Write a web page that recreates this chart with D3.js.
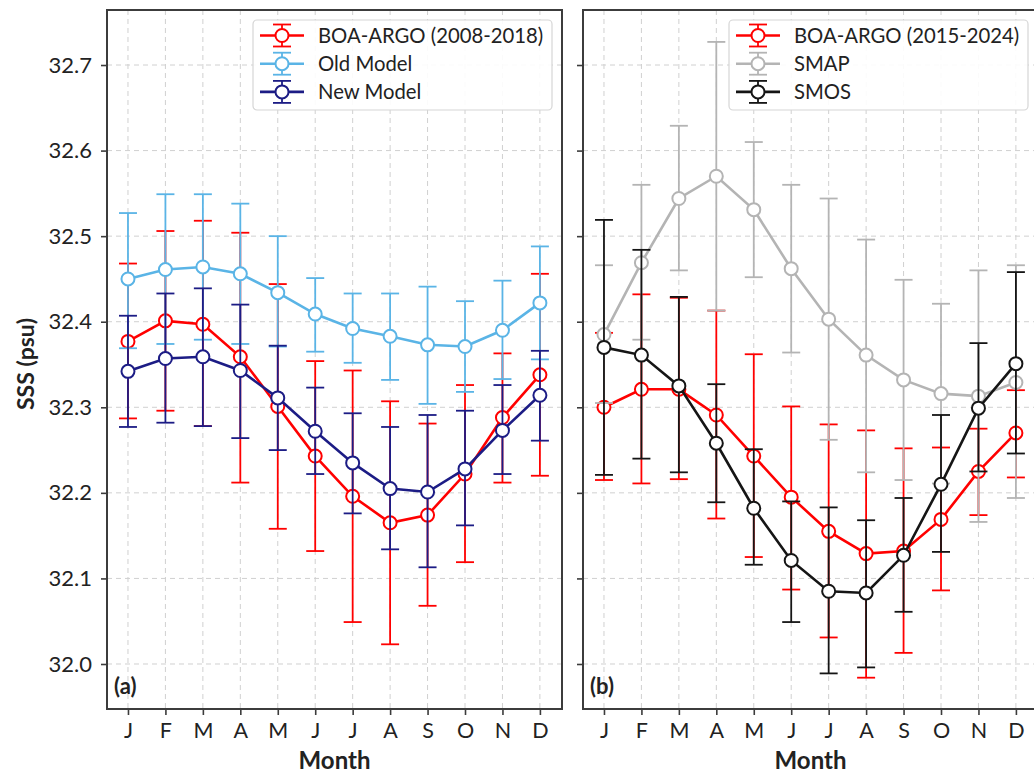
<!DOCTYPE html>
<html>
<head>
<meta charset="utf-8">
<script src="https://cdn.jsdelivr.net/npm/d3@7"></script>
<style>
  html, body { margin: 0; padding: 0; background: #fff; }
  svg { display: block; font-family: Lato, "Open Sans", sans-serif; }
</style>
</head>
<body>
<svg id="chart" width="1034" height="773"></svg>
<script>
// ---------- data ----------
const months = ["J","F","M","A","M","J","J","A","S","O","N","D"];
const yTicks = [32.0, 32.1, 32.2, 32.3, 32.4, 32.5, 32.6, 32.7];

// Panel (a)
const boaA_mean  = [32.377, 32.401, 32.397, 32.359, 32.301, 32.243, 32.196, 32.165, 32.174, 32.222, 32.288, 32.338];
const boaA_upper = [32.468, 32.506, 32.518, 32.504, 32.444, 32.354, 32.343, 32.307, 32.281, 32.326, 32.363, 32.456];
const boaA_lower = [32.287, 32.296, 32.278, 32.212, 32.158, 32.132, 32.049, 32.023, 32.068, 32.119, 32.212, 32.220];

const oldModel_mean  = [32.450, 32.461, 32.464, 32.456, 32.434, 32.409, 32.392, 32.383, 32.373, 32.371, 32.390, 32.422];
const oldModel_upper = [32.527, 32.549, 32.549, 32.538, 32.500, 32.451, 32.433, 32.433, 32.441, 32.424, 32.448, 32.488];
const oldModel_lower = [32.369, 32.374, 32.379, 32.374, 32.371, 32.365, 32.352, 32.332, 32.304, 32.318, 32.333, 32.356];

const newModel_mean  = [32.342, 32.357, 32.359, 32.343, 32.311, 32.272, 32.235, 32.205, 32.201, 32.228, 32.273, 32.314];
const newModel_upper = [32.407, 32.433, 32.439, 32.420, 32.372, 32.323, 32.293, 32.277, 32.291, 32.296, 32.326, 32.366];
const newModel_lower = [32.277, 32.282, 32.278, 32.264, 32.250, 32.222, 32.176, 32.134, 32.113, 32.162, 32.222, 32.261];

// Panel (b)
const boaB_mean  = [32.300, 32.321, 32.321, 32.291, 32.243, 32.195, 32.155, 32.129, 32.132, 32.169, 32.225, 32.270];
const boaB_upper = [32.387, 32.432, 32.428, 32.413, 32.362, 32.301, 32.280, 32.273, 32.252, 32.253, 32.275, 32.320];
const boaB_lower = [32.215, 32.211, 32.216, 32.170, 32.125, 32.087, 32.031, 31.984, 32.013, 32.086, 32.174, 32.218];

const smap_mean  = [32.385, 32.469, 32.544, 32.570, 32.531, 32.462, 32.403, 32.361, 32.332, 32.316, 32.313, 32.329];
const smap_upper = [32.466, 32.560, 32.629, 32.727, 32.610, 32.560, 32.544, 32.496, 32.449, 32.421, 32.460, 32.466];
const smap_lower = [32.305, 32.379, 32.460, 32.413, 32.452, 32.364, 32.262, 32.224, 32.215, 32.211, 32.166, 32.194];

const smos_mean  = [32.370, 32.361, 32.325, 32.258, 32.182, 32.121, 32.085, 32.083, 32.127, 32.210, 32.299, 32.351];
const smos_upper = [32.519, 32.484, 32.429, 32.327, 32.251, 32.190, 32.183, 32.168, 32.194, 32.291, 32.375, 32.458];
const smos_lower = [32.221, 32.240, 32.224, 32.189, 32.116, 32.049, 31.989, 31.996, 32.061, 32.131, 32.225, 32.246];

const panelA = {
  label: "(a)",
  series: [
    {name: "BOA-ARGO (2008-2018)", color: "#ff0000", mean: boaA_mean, upper: boaA_upper, lower: boaA_lower},
    {name: "Old Model", color: "#5ab4e6", mean: oldModel_mean, upper: oldModel_upper, lower: oldModel_lower},
    {name: "New Model", color: "#1c1c85", mean: newModel_mean, upper: newModel_upper, lower: newModel_lower}
  ]
};
const panelB = {
  label: "(b)",
  series: [
    {name: "BOA-ARGO (2015-2024)", color: "#ff0000", mean: boaB_mean, upper: boaB_upper, lower: boaB_lower},
    {name: "SMAP", color: "#b4b4b4", mean: smap_mean, upper: smap_upper, lower: smap_lower},
    {name: "SMOS", color: "#151515", mean: smos_mean, upper: smos_upper, lower: smos_lower}
  ]
};

// ---------- layout ----------
const svg = d3.select("#chart");
const H = {top: 10, bottom: 709};
const panelW = 455;
const panels = [
  {cfg: panelA, left: 107, showYLabels: true},
  {cfg: panelB, left: 583, showYLabels: false}
];
const axisColor = "#3c3c3c";
const textColor = "#222";

const y = d3.scaleLinear().domain([31.9474, 32.7643]).range([H.bottom, H.top]);

panels.forEach(p => {
  const x = d3.scaleLinear().domain([-0.56, 11.59]).range([p.left, p.left + panelW]);
  const g = svg.append("g");

  // grid
  g.append("g").selectAll("line.vg").data(months).join("line")
    .attr("x1", (d, i) => x(i)).attr("x2", (d, i) => x(i))
    .attr("y1", H.top).attr("y2", H.bottom)
    .attr("stroke", "#d0d0d0").attr("stroke-width", 1).attr("stroke-dasharray", "5,4");
  g.append("g").selectAll("line.hg").data(yTicks).join("line")
    .attr("x1", p.left).attr("x2", p.left + panelW)
    .attr("y1", d => y(d)).attr("y2", d => y(d))
    .attr("stroke", "#d0d0d0").attr("stroke-width", 1).attr("stroke-dasharray", "5,4");

  // axes
  const yAxis = d3.axisLeft(y).tickValues(yTicks).tickSize(6).tickPadding(9)
    .tickFormat(p.showYLabels ? d3.format(".1f") : () => "");
  const ya = g.append("g").attr("transform", `translate(${p.left},0)`).call(yAxis);
  ya.select(".domain").remove();
  ya.selectAll(".tick line").attr("stroke", axisColor).attr("stroke-width", 1.6);
  ya.selectAll(".tick text").attr("fill", textColor).style("font-size", "22px").style("font-family", "Lato");

  const xAxis = d3.axisBottom(x).tickValues(d3.range(12)).tickFormat(i => months[i]).tickSize(6).tickPadding(8);
  const xa = g.append("g").attr("transform", `translate(0,${H.bottom})`).call(xAxis);
  xa.select(".domain").remove();
  xa.selectAll(".tick line").attr("stroke", axisColor).attr("stroke-width", 1.6);
  xa.selectAll(".tick text").attr("fill", textColor).style("font-size", "21.5px").style("font-family", "Lato");

  // frame
  g.append("rect").attr("x", p.left).attr("y", H.top).attr("width", panelW).attr("height", H.bottom - H.top)
    .attr("fill", "none").attr("stroke", axisColor).attr("stroke-width", 2);

  // x label
  g.append("text").attr("x", p.left + panelW / 2).attr("y", 769).attr("text-anchor", "middle")
    .attr("fill", textColor).style("font-size", "24px").style("font-weight", "bold").text("Month");

  // panel letter
  g.append("text").attr("x", p.left + 7).attr("y", 694)
    .attr("fill", textColor).style("font-size", "22px").style("font-weight", "bold").text(p.cfg.label);

  // series
  const line = d3.line().x((d, i) => x(i)).y(d => y(d));
  p.cfg.series.forEach(s => {
    const sg = g.append("g");
    const idx = d3.range(12);
    sg.selectAll("line.eb").data(idx).join("line")
      .attr("x1", i => x(i)).attr("x2", i => x(i))
      .attr("y1", i => y(s.upper[i])).attr("y2", i => y(s.lower[i]))
      .attr("stroke", s.color).attr("stroke-width", 1.8);
    ["upper", "lower"].forEach(k => {
      sg.selectAll("line.cap" + k).data(idx).join("line")
        .attr("x1", i => x(i) - 9).attr("x2", i => x(i) + 9)
        .attr("y1", i => y(s[k][i])).attr("y2", i => y(s[k][i]))
        .attr("stroke", s.color).attr("stroke-width", 1.8);
    });
    sg.append("path").datum(s.mean).attr("d", line)
      .attr("fill", "none").attr("stroke", s.color).attr("stroke-width", 2.6);
    sg.selectAll("circle").data(s.mean).join("circle")
      .attr("cx", (d, i) => x(i)).attr("cy", d => y(d)).attr("r", 6.5)
      .attr("fill", "#fff").attr("stroke", s.color).attr("stroke-width", 2);
  });

  // legend
  const lx = p.left + 146, ly = 20, lw = 299, lh = 90;
  const lg = g.append("g");
  lg.append("rect").attr("x", lx).attr("y", ly).attr("width", lw).attr("height", lh).attr("rx", 4)
    .attr("fill", "#fff").attr("fill-opacity", 0.9).attr("stroke", "#d6d6d6").attr("stroke-width", 1.2);
  p.cfg.series.forEach((s, k) => {
    const cy = ly + 15.5 + k * 28.2;
    const mx = lx + 29;
    const it = lg.append("g");
    it.append("line").attr("x1", lx + 7).attr("x2", lx + 51).attr("y1", cy).attr("y2", cy)
      .attr("stroke", s.color).attr("stroke-width", 2.6);
    it.append("line").attr("x1", mx).attr("x2", mx).attr("y1", cy - 11).attr("y2", cy + 11)
      .attr("stroke", s.color).attr("stroke-width", 1.8);
    [cy - 11, cy + 11].forEach(yy => it.append("line").attr("x1", mx - 9).attr("x2", mx + 9)
      .attr("y1", yy).attr("y2", yy).attr("stroke", s.color).attr("stroke-width", 1.8));
    it.append("circle").attr("cx", mx).attr("cy", cy).attr("r", 6.5)
      .attr("fill", "#fff").attr("stroke", s.color).attr("stroke-width", 2);
    it.append("text").attr("x", lx + 65).attr("y", cy).attr("dy", "0.35em")
      .attr("fill", textColor).style("font-size", "20.3px").text(s.name);
  });
});

// y label
svg.append("text").attr("transform", "translate(34,364) rotate(-90)").attr("text-anchor", "middle")
  .attr("fill", textColor).style("font-size", "23px").style("font-weight", "bold").text("SSS (psu)");
</script>
</body>
</html>
